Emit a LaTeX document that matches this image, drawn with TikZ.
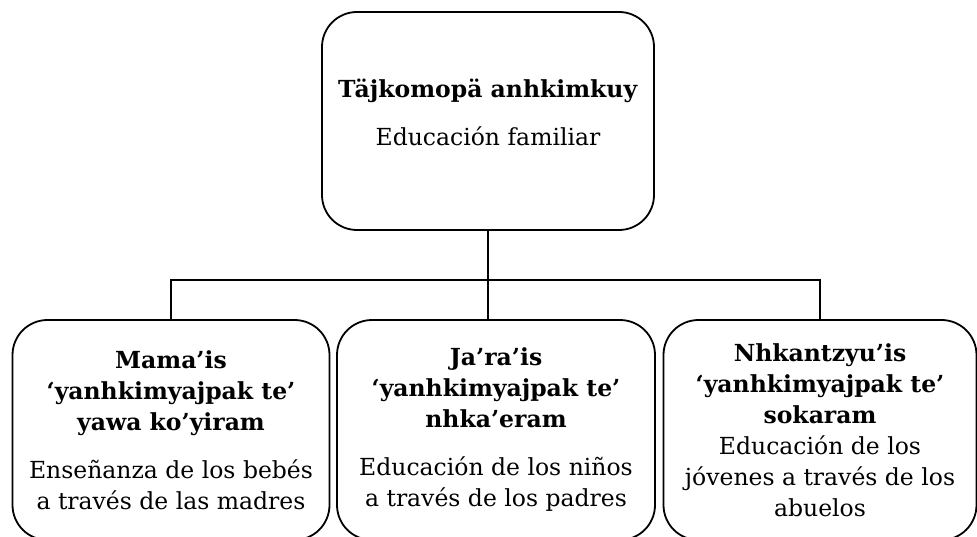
\documentclass[tikz,border=0pt]{standalone}
\usepackage{fontspec}
\setmainfont{DejaVu Serif}
\begin{document}
\begin{tikzpicture}[x=1pt,y=-1pt,
    caja/.style={shape=rectangle, draw=black, rounded corners=35pt, line width=1.8pt,
        align=center, inner sep=0pt, font=\fontsize{23.5}{31}\selectfont},
    linea/.style={draw=black, line width=1.8pt}]
            \useasboundingbox (0,0) rectangle (977,537);

            \node[caja, minimum width=332pt, minimum height=218pt] (top) at (488,121)
                {\textbf{Täjkomopä anhkimkuy}\\[17pt]Educación familiar\\[-13pt]\mbox{}};

            \node[caja, minimum width=317pt, minimum height=220pt] (mama) at (171,430)
                {\textbf{Mama’is}\\\textbf{‘yanhkimyajpak te’}\\\textbf{yawa ko’yiram}\\[17pt]Enseñanza de los bebés\\a través de las madres};
            \node[caja, minimum width=318pt, minimum height=220pt] (jara) at (496,430)
                {\textbf{Ja’ra’is}\\\textbf{‘yanhkimyajpak te’}\\\textbf{nhka’eram}\\[17pt]Educación de los niños\\a través de los padres};
            \node[caja, minimum width=313pt, minimum height=220pt] (nhkan) at (820,430)
                {\textbf{Nhkantzyu’is}\\\textbf{‘yanhkimyajpak te’}\\\textbf{sokaram}\\Educación de los\\jóvenes a través de los\\abuelos};

            %las lineas
            \coordinate (bus) at (488,280);
            \draw[linea] (top.south) -- (top.south |- jara.north);
            \draw[linea] (mama.north) |- (bus) -| (nhkan.north);
\end{tikzpicture}
\end{document}
